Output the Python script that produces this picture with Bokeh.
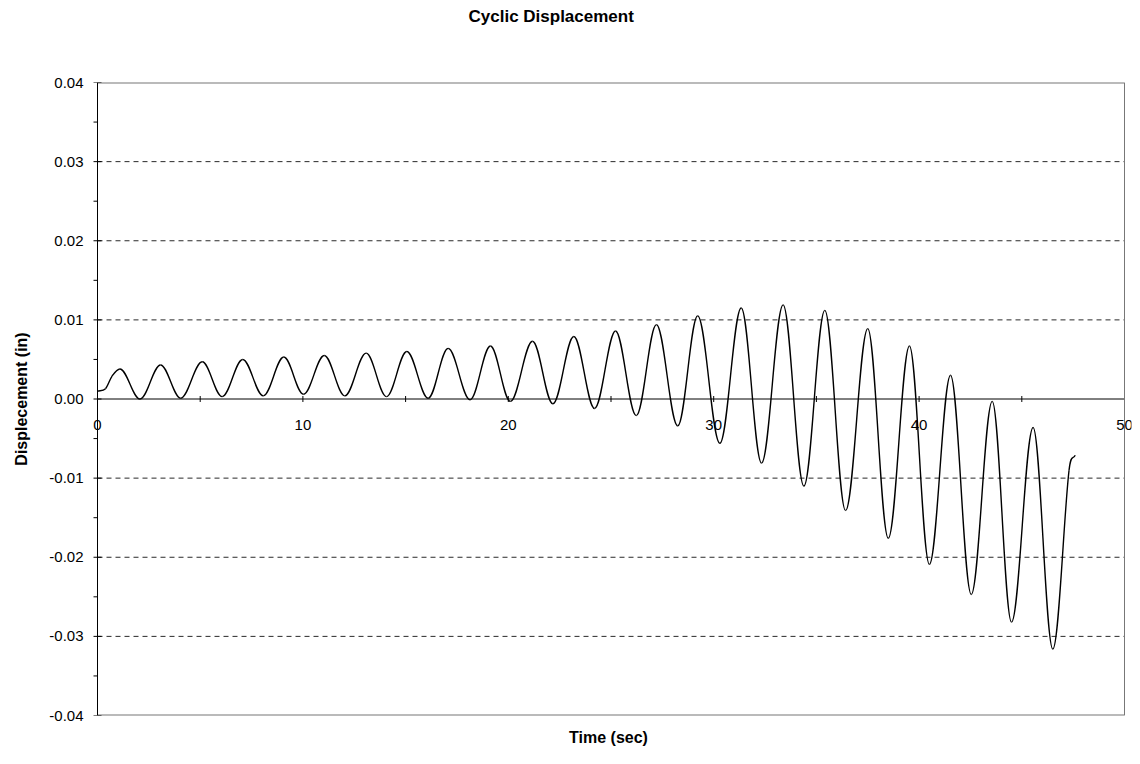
import numpy as np
from bokeh.plotting import figure
from bokeh.models import (Range1d, FixedTicker, Span, ColumnDataSource, LabelSet,
                          PrintfTickFormatter, Title)
from bokeh.core.properties import value
from bokeh.embed import file_html
from bokeh.resources import INLINE

# ---- data (turning points of the record) ----
time_s = [0.0, 0.39, 0.71, 1.09, 2.07, 3.07, 4.05, 5.10, 6.07, 7.07, 8.07, 9.07,
          10.03, 11.04, 12.04, 13.08, 14.07, 15.06, 16.10, 17.07, 18.14, 19.13,
          20.10, 21.18, 22.17, 23.19, 24.20, 25.22, 26.23, 27.21, 28.25, 29.22,
          30.30, 31.34, 32.33, 33.38, 34.39, 35.41, 36.42, 37.50, 38.50, 39.53,
          40.50, 41.53, 42.54, 43.56, 44.50, 45.55, 46.51, 47.30, 47.60]
disp_in = [0.0010, 0.0013, 0.0029, 0.0038, 0.0000, 0.0043, 0.0001, 0.0047, 0.0003,
           0.0050, 0.0004, 0.0053, 0.0006, 0.0055, 0.0004, 0.0058, 0.0003, 0.0060,
           0.0001, 0.0064, -0.0001, 0.0067, -0.0003, 0.0073, -0.0006, 0.0079,
           -0.0012, 0.0086, -0.0021, 0.0094, -0.0034, 0.0105, -0.0056, 0.0115,
           -0.0081, 0.0119, -0.0110, 0.0112, -0.0141, 0.0089, -0.0176, 0.0067,
           -0.0209, 0.0030, -0.0247, -0.0003, -0.0282, -0.0036, -0.0316, -0.0090,
           -0.0071]

x_ticks = [0, 10, 20, 30, 40, 50]
x_tick_labels = ["0", "10", "20", "30", "40", "50"]
x_minor_ticks = [5, 15, 25, 35, 45]
y_ticks = [-0.04, -0.03, -0.02, -0.01, 0.0, 0.01, 0.02, 0.03, 0.04]
y_minor_ticks = [-0.035, -0.025, -0.015, -0.005, 0.005, 0.015, 0.025, 0.035]
grid_levels = [-0.03, -0.02, -0.01, 0.01, 0.02, 0.03]
x_start, x_end = 0, 50
y_lo, y_hi = -0.04, 0.04
title_text = "Cyclic Displacement"

FONT = "Liberation Sans"

# ---- layout (pixels) ----
W, H = 1132, 748
AXIS_PX = 97          # where x = 0 sits
END_PX = 1124         # where x = 50 sits
FRAME_L = 85          # frame starts a little left of the axis so the "0" label is not cut
FRAME_R = W - 1
TOP, BOTTOM = 82, 32
pps = (END_PX - AXIS_PX) / (x_end - x_start)
x_min = x_start - (AXIS_PX - FRAME_L) / pps
x_max = x_end + (FRAME_R - END_PX) / pps

p = figure(width=W, height=H, x_range=Range1d(x_min, x_max), y_range=Range1d(y_lo, y_hi),
           output_backend="svg", toolbar_location=None,
           min_border_left=FRAME_L, min_border_right=W - FRAME_R,
           min_border_top=TOP, min_border_bottom=BOTTOM,
           background_fill_color="white", border_fill_color="white")
p.outline_line_color = None

# title near the top of the page: blank lines below it keep it away from the frame
p.add_layout(Title(text=title_text + "\n \n \n ", align="left", offset=383,
                   vertical_align="bottom", standoff=0, text_font=FONT,
                   text_font_size="17px", text_font_style="bold", text_color="black",
                   text_line_height=1.0),
             "above")

# y axis (labels only; its line and ticks are drawn at x = 0 below)
yax = p.yaxis[0]
yax.ticker = FixedTicker(ticks=y_ticks)
yax.formatter = PrintfTickFormatter(format="%.2f")
yax.axis_line_color = None
yax.major_tick_line_color = None
yax.minor_tick_line_color = None
yax.major_tick_out = 0
yax.minor_tick_out = 0
yax.major_label_standoff = 2
yax.major_label_text_font = FONT
yax.major_label_text_font_size = "15px"
yax.major_label_text_color = "black"
yax.axis_label = "Displecement (in)"
yax.axis_label_text_font = FONT
yax.axis_label_text_font_size = "16px"
yax.axis_label_text_font_style = "bold"
yax.axis_label_text_color = "black"
yax.axis_label_standoff = 16

# bottom axis only carries the title
xax = p.xaxis[0]
xax.ticker = FixedTicker(ticks=[])
xax.axis_line_color = None
xax.major_tick_out = 0
xax.minor_tick_out = 0
xax.axis_label = "Time (sec)"
xax.axis_label_text_font = FONT
xax.axis_label_text_font_size = "16px"
xax.axis_label_text_font_style = "bold"
xax.axis_label_text_color = "black"
xax.axis_label_standoff = 13

p.xgrid.visible = False
p.ygrid.visible = False

# dashed grid lines between the axis and the right border
ng = len(grid_levels)
p.segment(x0=[x_start] * ng, x1=[x_end] * ng, y0=grid_levels, y1=grid_levels,
          line_color="#2a2a2a", line_width=1, line_dash="5 4")

# plot border (top, bottom, right) in grey
p.segment(x0=[x_start, x_start], x1=[x_end, x_end], y0=[y_hi, y_lo], y1=[y_hi, y_lo],
          line_color="#777777", line_width=2)
p.add_layout(Span(location=x_end, dimension="height", line_color="#777777", line_width=1))

# y axis line and ticks at x = 0
p.add_layout(Span(location=x_start, dimension="height", line_color="black", line_width=1))
p.scatter(x=[x_start] * len(y_ticks), y=y_ticks, marker="dash", size=8,
          line_color="black", line_width=1)
p.ray(x=[x_start] * len(y_minor_ticks), y=y_minor_ticks, length=4, length_units="screen",
      angle=np.pi, line_color="black", line_width=1)

# x axis at y = 0
p.segment(x0=[x_start], x1=[x_end], y0=[0.0], y1=[0.0], line_color="black", line_width=1)
all_xt = x_ticks + x_minor_ticks
p.scatter(x=all_xt, y=[0.0] * len(all_xt), marker="dash", angle=np.pi / 2, size=6,
          line_color="black", line_width=1)
lab_src = ColumnDataSource(dict(x=x_ticks, y=[0.0] * len(x_ticks), text=x_tick_labels))
p.add_layout(LabelSet(x="x", y="y", text="text", source=lab_src, y_offset=-26,
                      text_align="center", text_baseline="middle",
                      text_font=value(FONT), text_font_size=value("15px"),
                      text_color="black"))

# smooth curve through the read points (cubic Hermite segments drawn as Bezier)
t = np.array(time_s)
d = np.array(disp_in)
n = len(t)
m = np.zeros(n)
ext = np.zeros(n, dtype=bool)
for i in range(n):
    if i == 0:
        m[i] = (d[1] - d[0]) / (t[1] - t[0])
    elif i == n - 1:
        m[i] = (d[-1] - d[-2]) / (t[-1] - t[-2])
    elif (d[i] - d[i - 1]) * (d[i + 1] - d[i]) <= 0:
        m[i] = 0.0
        ext[i] = True
    else:
        m[i] = (d[i + 1] - d[i - 1]) / (t[i + 1] - t[i - 1])
dx = t[1:] - t[:-1]
k0 = np.where(ext[:-1], 0.36, 1 / 3)
k1 = np.where(ext[1:], 0.36, 1 / 3)
seg = ColumnDataSource(dict(
    x0=t[:-1], y0=d[:-1], x1=t[1:], y1=d[1:],
    cx0=t[:-1] + k0 * dx, cy0=d[:-1] + m[:-1] * k0 * dx,
    cx1=t[1:] - k1 * dx, cy1=d[1:] - m[1:] * k1 * dx))
p.bezier(x0="x0", y0="y0", x1="x1", y1="y1", cx0="cx0", cy0="cy0", cx1="cx1", cy1="cy1",
         source=seg, line_color="black", line_width=1.4)

open("out.html", "w").write(file_html(p, INLINE))
